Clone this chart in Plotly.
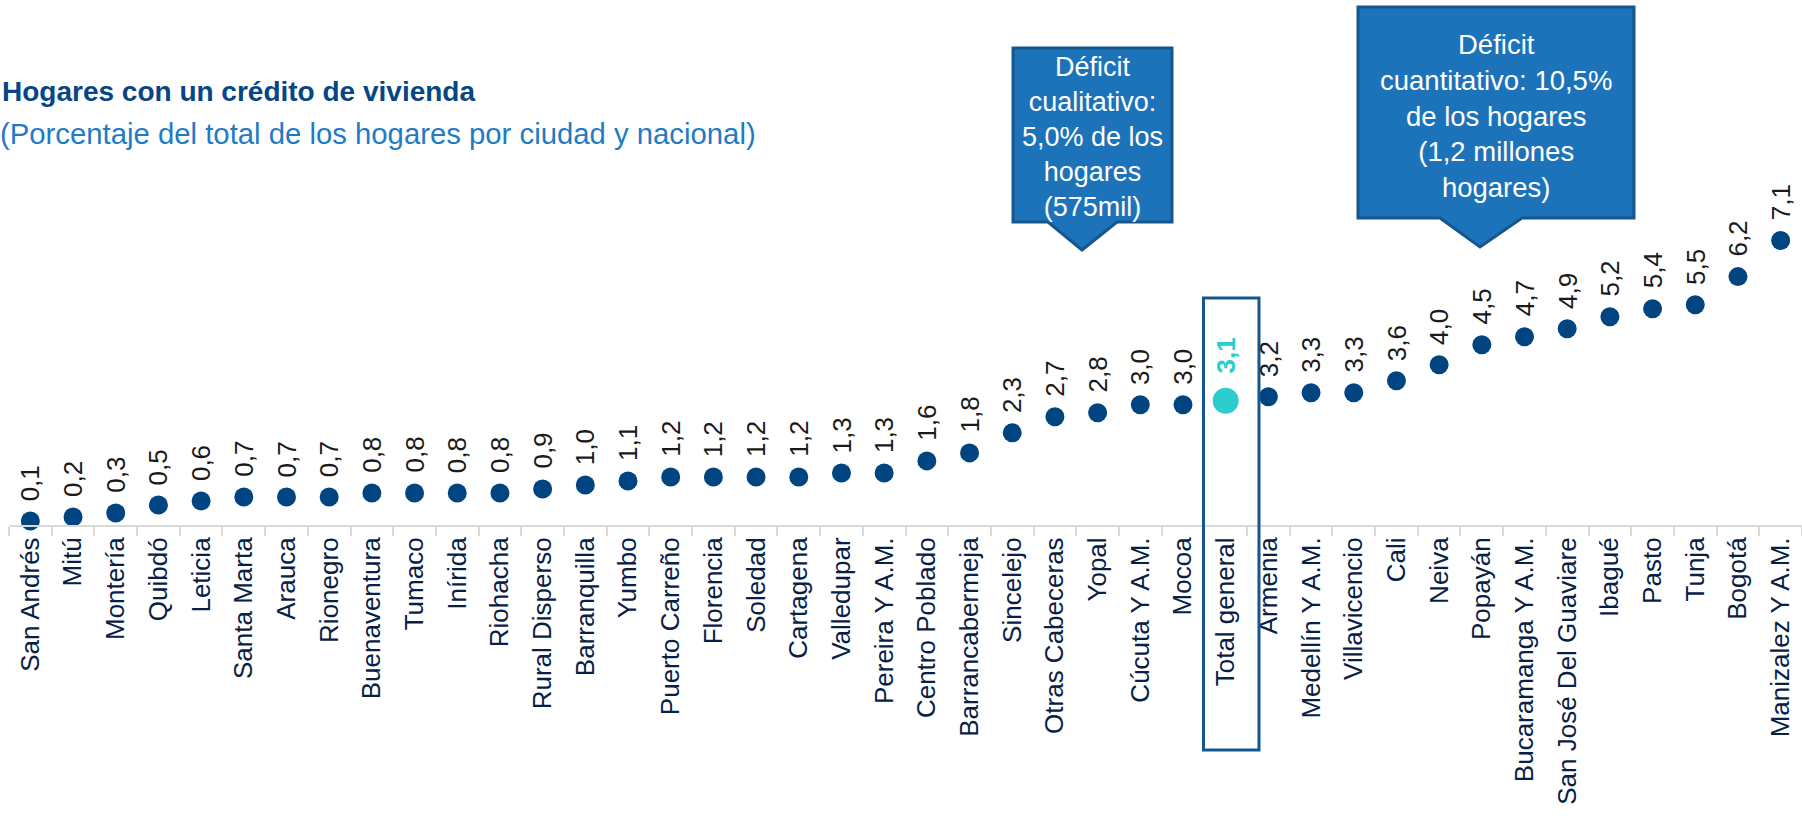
import plotly.graph_objects as go

# datos
ciudades = [
    "San Andrés", "Mitú", "Montería", "Quibdó", "Leticia", "Santa Marta", "Arauca",
    "Rionegro", "Buenaventura", "Tumaco", "Inírida", "Riohacha", "Rural Disperso",
    "Barranquilla", "Yumbo", "Puerto Carreño", "Florencia", "Soledad", "Cartagena",
    "Valledupar", "Pereira Y A.M.", "Centro Poblado", "Barrancabermeja", "Sincelejo",
    "Otras Cabeceras", "Yopal", "Cúcuta Y A.M.", "Mocoa", "Total general", "Armenia",
    "Medellín Y A.M.", "Villavicencio", "Cali", "Neiva", "Popayán",
    "Bucaramanga Y A.M.", "San José Del Guaviare", "Ibagué", "Pasto", "Tunja",
    "Bogotá", "Manizalez Y A.M.",
]
valores = [
    0.1, 0.2, 0.3, 0.5, 0.6, 0.7, 0.7, 0.7, 0.8, 0.8, 0.8, 0.8, 0.9, 1.0,
    1.1, 1.2, 1.2, 1.2, 1.2, 1.3, 1.3, 1.6, 1.8, 2.3, 2.7, 2.8, 3.0, 3.0,
    3.1, 3.2, 3.3, 3.3, 3.6, 4.0, 4.5, 4.7, 4.9, 5.2, 5.4, 5.5, 6.2, 7.1,
]
destacado = "Total general"

titulo = "Hogares con un crédito de vivienda"
subtitulo = "(Porcentaje del total de los hogares por ciudad y nacional)"
nota_cualitativo = "Déficit<br>cualitativo:<br>5,0% de los<br>hogares<br>(575mil)"
nota_cuantitativo = "Déficit<br>cuantitativo: 10,5%<br>de los hogares<br>(1,2 millones<br>hogares)"

etiquetas = [f"{v:.1f}".replace(".", ",") for v in valores]

AZUL = "#004481"
AQUA = "#2DCCCD"
NAVY = "#072146"
CAJA = "#1D73B9"
BORDE = "#15578C"
FUENTE = "Liberation Sans, Arial, sans-serif"

W, H = 1802, 830
ML, MR, MT, MB = 9, 0, 5, 305
pw = W - ML - MR
ph = H - MT - MB
ymax = 12.98


def px(x):
    return (x - ML) / pw


def py(y):
    return (H - MB - y) / ph


colores = [AQUA if c == destacado else AZUL for c in ciudades]
tamanos = [26 if c == destacado else 19 for c in ciudades]

fig = go.Figure(
    go.Scatter(
        x=ciudades, y=valores, mode="markers",
        marker=dict(color=colores, size=tamanos, opacity=1, line=dict(width=0)),
        cliponaxis=False, hoverinfo="skip", showlegend=False,
    )
)

# etiquetas de datos giradas
for c, v, t in zip(ciudades, valores, etiquetas):
    esp = c == destacado
    fig.add_annotation(
        x=c, y=v, text=f"<b>{t}</b>" if esp else t, textangle=-90,
        showarrow=False, xanchor="center", yanchor="bottom", yshift=25 if esp else 18,
        font=dict(family=FUENTE, size=26, color=AQUA if esp else "#1A1A1A"),
    )

# recuadro alrededor de Total general
i = ciudades.index(destacado)
fig.add_shape(
    type="rect", xref="x", yref="paper",
    x0=i - 0.52, x1=i + 0.78, y0=py(750), y1=py(298),
    line=dict(color=BORDE, width=3), fillcolor="rgba(0,0,0,0)", layer="above",
)


def globo(x0, y0, x1, y1, b0, b1, tx, ty):
    pts = [(x0, y0), (x1, y0), (x1, y1), (b1, y1), (tx, ty), (b0, y1), (x0, y1)]
    d = "M " + " L ".join(f"{px(a):.5f},{py(b):.5f}" for a, b in pts) + " Z"
    fig.add_shape(type="path", xref="paper", yref="paper", path=d,
                  fillcolor=CAJA, line=dict(color=BORDE, width=3), layer="below")


globo(1013, 48, 1172, 222, 1048, 1117, 1082, 250)
globo(1358, 7, 1634, 218, 1440, 1522, 1480, 247)

fig.add_annotation(x=px(1092), y=py(137), xref="paper", yref="paper", text=nota_cualitativo,
                   showarrow=False, align="center", xanchor="center", yanchor="middle",
                   font=dict(family=FUENTE, size=27, color="white"))
fig.add_annotation(x=px(1496), y=py(116), xref="paper", yref="paper", text=nota_cuantitativo,
                   showarrow=False, align="center", xanchor="center", yanchor="middle",
                   font=dict(family=FUENTE, size=27.5, color="white"))

# título y subtítulo
fig.add_annotation(x=px(0), y=py(92), xref="paper", yref="paper", text=f"<b>{titulo}</b>",
                   showarrow=False, xanchor="left", yanchor="middle",
                   font=dict(family=FUENTE, size=28, color="#064685"))
fig.add_annotation(x=px(-2), y=py(133), xref="paper", yref="paper", text=subtitulo,
                   showarrow=False, xanchor="left", yanchor="middle",
                   font=dict(family=FUENTE, size=29.3, color="#1F7BC6"))

fig.update_xaxes(
    type="category", range=[-0.5, len(ciudades) - 0.5], tickangle=-90,
    tickfont=dict(family=FUENTE, size=26, color=NAVY),
    showline=True, linecolor="#D9D9D9", linewidth=2,
    ticks="outside", tickson="boundaries", ticklen=9, tickcolor="#D9D9D9", tickwidth=2,
    showgrid=False, zeroline=False, fixedrange=True,
)
fig.update_yaxes(visible=False, range=[0, ymax], fixedrange=True)
fig.update_layout(
    width=W, height=H, margin=dict(l=ML, r=MR, t=MT, b=MB),
    plot_bgcolor="white", paper_bgcolor="white", showlegend=False,
)

fig.write_html("out.html", config={"displayModeBar": False},
               post_script="document.body.style.margin='0';")
